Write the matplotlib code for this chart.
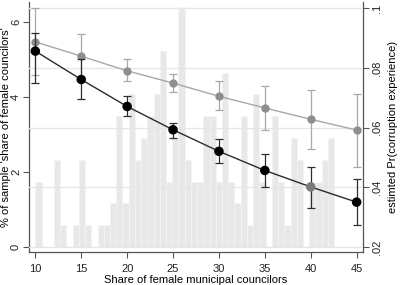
import numpy as np
import matplotlib
matplotlib.use('Agg')
import matplotlib.pyplot as plt

plt.rcParams['font.family'] = ['Liberation Sans', 'DejaVu Sans']

# histogram of sample share of female councilors (percent of sample per bin)
bin_start = 10.0
bin_width = 0.678
hist_pct = [1.74, 0, 0, 2.33, 0.58, 0, 0.58, 2.33, 0.58, 0,
            0.58, 0.58, 1.16, 3.49, 1.16, 4.07, 2.33, 2.91, 3.49, 4.07,
            5.23, 1.74, 2.91, 6.40, 2.33, 1.74, 1.74, 3.49, 3.49, 1.74,
            4.65, 1.74, 1.16, 3.49, 0.58, 4.07, 1.74, 0, 3.49, 1.74,
            0.58, 2.91, 2.33, 0, 1.74, 1.74, 2.33, 2.91]

# estimated probabilities
share = [10, 15, 20, 25, 30, 35, 40, 45]
pr_black = [.0856, .0761, .0671, .0593, .0521, .0457, .0402, .0351]
pr_black_lo = [.0751, .0696, .0638, .0567, .0481, .0402, .0332, .0273]
pr_black_hi = [.0917, .0831, .0705, .0617, .0563, .0512, .0470, .0429]
pr_grey = [.0887, .0839, .0790, .0749, .0705, .0666, .0628, .0592]
pr_grey_lo = [.0775, .0766, .0755, .0719, .0658, .0592, .0529, .0470]
pr_grey_hi = [.1000, .0912, .0830, .0778, .0755, .0739, .0727, .0711]

fig = plt.figure(figsize=(4, 2.85), dpi=100)
ax = fig.add_axes([0.0718, 0.1168, 0.8365, 0.876])
ax2 = ax.twinx()

edges = bin_start + bin_width*np.arange(len(hist_pct))
ax.bar(edges, hist_pct, width=bin_width, align='edge', color='#e8e8e8',
       edgecolor='#f3f3f3', linewidth=0.5, zorder=1)
ax.set_xlim(9.28, 45.73)
ax.set_ylim(-0.134, 6.54)
ax.set_yticks([0, 2, 4, 6])
ax.set_xticks(share)

axc = '#555555'
for a in (ax, ax2):
    a.spines['top'].set_visible(False)
    for s in ('left', 'right', 'bottom'):
        a.spines[s].set_color(axc)
        a.spines[s].set_linewidth(0.9)
    a.tick_params(colors='#222222', labelsize=8, length=4, width=0.8)
    a.tick_params(axis='both', color=axc)
ax.tick_params(axis='x', pad=4.5)
ax.tick_params(axis='y', pad=1.5)
ax.spines['right'].set_visible(False)
ax2.spines['left'].set_visible(False)
ax2.spines['bottom'].set_visible(False)
for lab in ax.get_yticklabels():
    lab.set_rotation(90)
    lab.set_va('center')

ax2.set_ylim(0.01853, 0.102)
ax2.set_yticks([.02, .04, .06, .08, .1])
ax2.set_yticklabels(['.02', '.04', '.06', '.08', '.1'], rotation=90, va='center')
ax2.tick_params(axis='y', pad=2)
ax2.yaxis.grid(True, color='#e6e6e6', linewidth=0.9)
ax2.set_axisbelow(False)

# grey series
ax2.errorbar(share, pr_grey,
             yerr=[np.subtract(pr_grey, pr_grey_lo), np.subtract(pr_grey_hi, pr_grey)],
             fmt='none', ecolor='#a8a8a8', elinewidth=0.9, capsize=3, capthick=0.9, zorder=3)
ax2.plot(share, pr_grey, color='#a8a8a8', linewidth=1.0, zorder=3)
ax2.plot(share, pr_grey, 'o', color='#8e8e8e', markersize=5, zorder=4)

# black series
ax2.errorbar(share, pr_black,
             yerr=[np.subtract(pr_black, pr_black_lo), np.subtract(pr_black_hi, pr_black)],
             fmt='none', ecolor='#2e2e2e', elinewidth=0.9, capsize=3, capthick=0.9, zorder=5)
ax2.plot(share, pr_black, color='#2a2a2a', linewidth=1.0, zorder=5)
mcol = ['black']*6 + ['#7a7a7a', 'black']
ax2.scatter(share, pr_black, s=34, c=mcol, zorder=6)

ax.set_xlabel('Share of female municipal councilors', fontsize=8, labelpad=1)
ax.set_ylabel("% of sample 'share of female councilors'", fontsize=8)
ax.yaxis.set_label_coords(-0.053, 0.5)
ax2.set_ylabel('estimted Pr(corruption experience)', fontsize=8)
ax2.yaxis.set_label_coords(1.074, 0.5)

fig.savefig('out.png', dpi=100)
